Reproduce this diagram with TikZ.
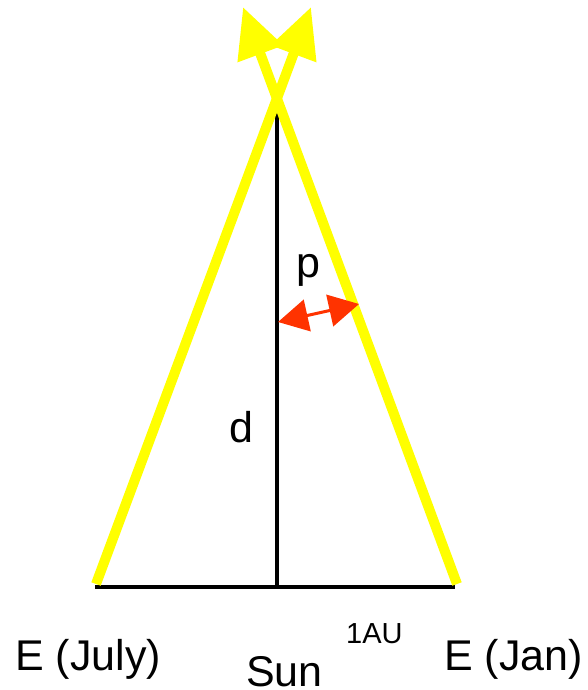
\documentclass[tikz,border=0pt]{standalone}
\usepackage{fontspec}
\setmainfont{Liberation Sans}
\usetikzlibrary{arrows.meta}
\definecolor{ylw}{RGB}{255,255,0}
\definecolor{redarr}{RGB}{255,51,0}
\begin{document}
\begin{tikzpicture}[x=1pt,y=-1pt,
  ray/.style={draw=ylw,line width=10pt,-{Triangle[length=50pt,width=46pt]}},
  blk/.style={draw=black,line width=4.5pt},
  parr/.style={draw=redarr,fill=redarr,line width=3pt,{Triangle[length=30pt,width=32pt]}-{Triangle[length=30pt,width=32pt]}},
  big/.style={inner sep=0pt,anchor=base west,font=\fontsize{43}{50}\selectfont},
  small/.style={inner sep=0pt,anchor=base west,font=\fontsize{29}{34}\selectfont}]
\useasboundingbox (0,0) rectangle (588,690);
\coordinate (jul) at (96,584);
\coordinate (jan) at (457,584);
\coordinate (tipR) at (311,7);
\coordinate (tipL) at (243,7);
\coordinate (bl) at (95,587);
\coordinate (br) at (455,587);
\coordinate (sun) at (277,587);
\coordinate (star) at (277,104);
\coordinate (pa) at (278,322);
\coordinate (pb) at (359,304);
\draw[blk] (bl) -- (br);
\draw[blk] (sun) -- (star);
\draw[ray] (jul) -- (tipR);
\draw[ray] (jan) -- (tipL);
\draw[parr] (pa) -- (pb);
\node[big] (p) at (296,277) {p};
\node[big] (d) at (229,442) {d};
\node[big] (ejul) at (15,670) {E (July)};
\node[big] (esun) at (246,686) {Sun};
\node[small] (au) at (346,643) {1AU};
\node[big] (ejan) at (444,670) {E (Jan)};
\end{tikzpicture}
\end{document}
